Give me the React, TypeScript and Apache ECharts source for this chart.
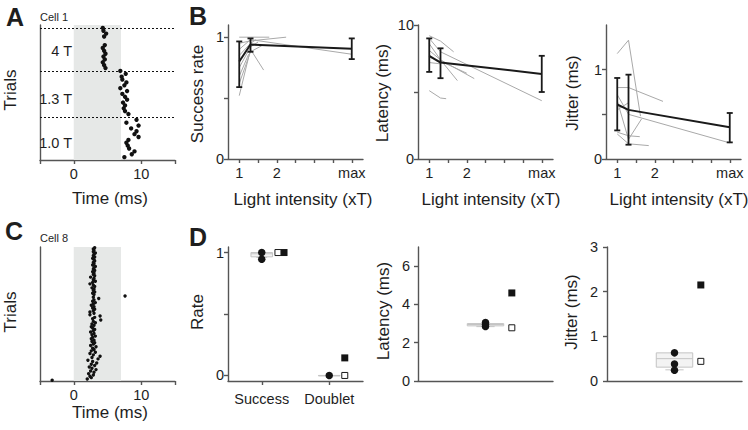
import React, { useEffect, useRef } from "react";
import * as echarts from "echarts";

const FONT = "'Liberation Sans', Arial, Helvetica, sans-serif";
const INK = "#1e1e1e";
const AXIS = "#555555";
const GREY_LINE = "#a9a9a9";
const BOX_LINE = "#c4c4c4";
const SHADE = "#e6e8e7";

// ---------- Panel A : Cell 1 raster (spike times in ms per trial, bottom block first)
const aBlockNames = ["1.0 T", "1.3 T", "4 T"];
const aBlockStarts = [0, 15, 31];
const aBlockEdges = [15, 31, 46];
const aSpikes10T = [7.5, 8.6, 9.0, 8.2, 8.0, 7.8, 8.1, 9.6, 9.0, 9.3, 8.5, 9.6, 7.8, 9.3];
const aSpikes13T = [8.1, 7.6, 7.4, 7.6, 7.3, 7.9, 7.6, 7.2, 7.9, 6.9, 7.5, 7.8, 7.2, 7.1, 7.7, 6.9];
const aSpikes4T = [4.7, 4.5, 4.3, 4.6, 4.4, 4.7, 4.5, 4.3, 4.6, null, null, 4.5, 4.8, 4.4, 4.3];
const stimWindow = [0, 7];
const timeTicks = [-5, 0, 10, 15];
const timeLabels = [0, 10];

// ---------- Panel C : Cell 8 raster (trial 0 at bottom)
const cSpikes = [
  -3.2, 2.0, 2.6, 2.4, 2.9, 2.2, 3.0, 2.5, 3.3, 2.7,
  2.3, 3.1, 2.6, 3.4, 2.8, 2.1, 3.6, 2.7, 3.9, 2.9,
  2.4, 3.2, 2.6, 3.0, 2.8, 3.3, 2.5, 2.9, 3.1, 2.7,
  3.0, 2.6, 2.8, 3.2, 2.7, 3.0, 2.5, 2.9, 3.1, 2.8,
  2.6, 3.0, 2.7, 3.2, 2.9, 4.0, 2.8, 3.1, 3.9, 2.4,
  3.0, 2.4, 2.9, 3.1, 2.8, 3.0, 2.6, 2.9, 3.2, 2.8,
  3.0, 3.7, 2.9, 7.6, 3.0, 2.8, 3.1, 2.9, 3.0, 2.7,
  3.1, 2.9, 2.4, 2.8, 3.2, 2.9, 3.0, 2.5, 3.1, 2.9,
  3.0, 2.8, 3.1, 2.9, 3.0, 3.2, 2.8, 3.0, 2.9, 3.1,
  3.0, 2.8, 3.1, 2.9, 3.0, 3.2, 2.9, 3.0, 2.9, 3.1,
];
const cTrialMax = 100;

// ---------- Panel B : intensity series
const bIntensity = [1, 1.3, 4];
const bIntensityTicks = [1, 1.5, 2, 2.5, 3, 3.5, 4];
const bIntensityLabels = [1, 2, 4];

const bRateMean = [0.8, 0.94, 0.905];
const bRateLow = [0.59, 0.88, 0.82];
const bRateHigh = [0.965, 0.99, 0.99];
const bRateCells = [
  [[1, 0.52], [1.3, 0.9], [1.65, 0.73]],
  [[1, 1.0], [1.3, 1.0], [1.8, 1.0]],
  [[1, 0.95], [1.3, 0.97], [2.25, 1.0]],
  [[1, 0.75], [1.3, 0.92], [1.5, 0.96]],
  [[1, 0.62], [1.3, 0.88], [1.6, 0.93]],
  [[1, 0.9], [1.3, 0.98], [4, 0.86]],
  [[1, 0.85], [1.3, 0.95], [1.45, 0.98]],
  [[1, 0.68], [1.25, 0.86]],
];

const bLatMean = [7.7, 7.2, 6.35];
const bLatLow = [6.5, 6.03, 5.0];
const bLatHigh = [9.0, 8.26, 7.7];
const bLatCells = [
  [[1, 9.2], [1.3, 8.8], [1.65, 8.0]],
  [[1, 9.0], [1.3, 8.0], [4, 4.35]],
  [[1, 8.6], [1.3, 7.4], [1.75, 5.85]],
  [[1, 8.1], [1.3, 7.4], [2.2, 6.0]],
  [[1, 5.1], [1.3, 4.55], [1.45, 4.5]],
  [[1, 7.6], [1.3, 7.3], [2.0, 6.4]],
  [[1, 7.2], [1.3, 7.1]],
];

const bJitMean = [0.61, 0.55, 0.355];
const bJitLow = [0.32, 0.16, 0.186];
const bJitHigh = [0.907, 0.944, 0.515];
const bJitCells = [
  [[1, 1.18], [1.3, 1.33], [1.62, 0.48]],
  [[1, 0.8], [1.3, 0.8], [2.22, 0.645]],
  [[1, 0.72], [1.3, 0.5], [4, 0.18]],
  [[1, 0.3], [1.3, 0.26], [1.6, 0.25]],
  [[1, 0.28], [1.3, 0.17], [1.84, 0.15]],
  [[1, 0.65], [1.3, 0.22], [1.65, 0.45]],
  [[1, 0.55], [1.3, 0.63]],
];

// ---------- Panel D : summary
const dCategories = ["Success", "Doublet"];
const dCategoryPos = [0.5, 1.5];
const dRateCircles = [[0.5, 1.0], [0.5, 0.945], [1.5, 0.0]];
const dRateFilled = [[0.83, 1.0], [1.73, 0.143]];
const dRateOpen = [[0.74, 1.0], [1.73, 0.0]];
// box: [center, whiskerLow, q1, median, q3, whiskerHigh]
const dRateBoxes = [[0.5, 0.96, 0.965, 0.99, 1.0, 1.0], [1.5, 0, 0, 0, 0, 0]];

const dLatCircles = [[1, 3.05], [1, 2.95], [1, 2.85]];
const dLatFilled = [[1.39, 4.6]];
const dLatOpen = [[1.39, 2.78]];
const dLatBoxes = [[1, 2.84, 2.88, 2.95, 3.0, 3.05]];

const dJitCircles = [[1, 0.63], [1, 0.38], [1, 0.24]];
const dJitFilled = [[1.39, 2.15]];
const dJitOpen = [[1.39, 0.44]];
const dJitBoxes = [[1, 0.25, 0.31, 0.5, 0.63, 0.63]];

// ---------------------------------------------------------------
function valAxis(gridIndex: number, min: number, max: number, ticks: number[] | null, labels: number[] | null, opts: any = {}) {
  return {
    type: "value",
    gridIndex,
    min,
    max,
    axisLine: { show: true, onZero: false, lineStyle: { color: AXIS, width: 1.4 } },
    axisTick: ticks
      ? { show: true, customValues: ticks, length: 4, lineStyle: { color: AXIS, width: 1.4 } }
      : { show: false },
    axisLabel: labels
      ? {
          show: true,
          customValues: labels,
          color: INK,
          fontSize: 14.5,
          fontFamily: FONT,
          margin: opts.margin ?? 5,
          formatter: opts.formatter || ((v: number) => String(v)),
        }
      : { show: false },
    splitLine: { show: false },
  };
}

function errBars(xi: number, xs: number[], lo: number[], hi: number[]) {
  return {
    type: "custom",
    xAxisIndex: xi,
    yAxisIndex: xi,
    z: 6,
    silent: true,
    data: xs.map((x, i) => [x, lo[i], hi[i]]),
    renderItem: (params: any, api: any) => {
      const a = api.coord([api.value(0), api.value(1)]);
      const b = api.coord([api.value(0), api.value(2)]);
      const st = { stroke: "#1a1a1a", lineWidth: 1.8 };
      return {
        type: "group",
        children: [
          { type: "line", shape: { x1: a[0], y1: a[1], x2: b[0], y2: b[1] }, style: st },
          { type: "line", shape: { x1: a[0] - 3, y1: a[1], x2: a[0] + 3, y2: a[1] }, style: st },
          { type: "line", shape: { x1: b[0] - 3, y1: b[1], x2: b[0] + 3, y2: b[1] }, style: st },
        ],
      };
    },
  };
}

function boxes(xi: number, data: number[][], halfW: number) {
  return {
    type: "custom",
    xAxisIndex: xi,
    yAxisIndex: xi,
    z: 2,
    silent: true,
    data,
    renderItem: (params: any, api: any) => {
      const c = api.value(0);
      const wl = api.value(1), q1 = api.value(2), md = api.value(3), q3 = api.value(4), wh = api.value(5);
      const tl = api.coord([c - halfW, q3]);
      const br = api.coord([c + halfW, q1]);
      const m1 = api.coord([c - halfW, md]);
      const m2 = api.coord([c + halfW, md]);
      const lo = api.coord([c, wl]);
      const hi = api.coord([c, wh]);
      const capW = (br[0] - tl[0]) / 4;
      const st = { stroke: BOX_LINE, lineWidth: 1, fill: null };
      return {
        type: "group",
        children: [
          { type: "rect", shape: { x: tl[0], y: tl[1], width: br[0] - tl[0], height: Math.max(br[1] - tl[1], 0.5) }, style: { stroke: BOX_LINE, lineWidth: 1, fill: "rgba(235,235,235,0.6)" } },
          { type: "line", shape: { x1: m1[0], y1: m1[1], x2: m2[0], y2: m2[1] }, style: st },
          { type: "line", shape: { x1: lo[0], y1: br[1], x2: lo[0], y2: lo[1] }, style: st },
          { type: "line", shape: { x1: lo[0] - capW, y1: lo[1], x2: lo[0] + capW, y2: lo[1] }, style: st },
          { type: "line", shape: { x1: hi[0], y1: tl[1], x2: hi[0], y2: hi[1] }, style: st },
        ],
      };
    },
  };
}

function greyLines(xi: number, cells: number[][][]) {
  return cells.map((c) => ({
    type: "line",
    xAxisIndex: xi,
    yAxisIndex: xi,
    data: c,
    symbol: "none",
    silent: true,
    z: 2,
    lineStyle: { color: GREY_LINE, width: 1 },
  }));
}

function meanLine(xi: number, xs: number[], ys: number[]) {
  return {
    type: "line",
    xAxisIndex: xi,
    yAxisIndex: xi,
    data: xs.map((x, i) => [x, ys[i]]),
    symbol: "none",
    silent: true,
    z: 5,
    lineStyle: { color: "#1a1a1a", width: 2 },
  };
}

function markers(xi: number, data: number[][], kind: "circle" | "filled" | "open") {
  return {
    type: "scatter",
    xAxisIndex: xi,
    yAxisIndex: xi,
    data,
    silent: true,
    z: 7,
    symbol: kind === "circle" ? "circle" : "rect",
    symbolSize: kind === "circle" ? 7.5 : kind === "filled" ? 7 : 6,
    itemStyle:
      kind === "open"
        ? { color: "#ffffff", borderColor: "#1a1a1a", borderWidth: 1, opacity: 1 }
        : { color: "#141414", opacity: 1 },
  };
}

function txt(text: string, x: number, y: number, size: number, opts: any = {}) {
  return {
    type: "text",
    x,
    y,
    rotation: opts.rot ? Math.PI / 2 : 0,
    silent: true,
    z: 20,
    style: {
      text,
      fontSize: size,
      fontFamily: FONT,
      fontWeight: opts.bold ? "bold" : "normal",
      fill: INK,
      align: opts.align || "center",
      textAlign: opts.align || "center",
      verticalAlign: "middle",
      textVerticalAlign: "middle",
    },
  };
}

export default function App() {
  const ref = useRef<HTMLDivElement>(null);

  useEffect(() => {
    if (!ref.current) return;
    const chart = echarts.init(ref.current, null, { renderer: "svg" });

    const aPoints: number[][] = [];
    [aSpikes10T, aSpikes13T, aSpikes4T].forEach((arr, b) =>
      arr.forEach((t, i) => {
        if (t != null) aPoints.push([t as number, aBlockStarts[b] + i + 1]);
      })
    );
    const cPoints = cSpikes.map((t, i) => [t, i + 0.5]);

    const intensityFmt = (v: number) => (v === 4 ? "max" : String(v));
    const catFmt = (v: number) => dCategories[dCategoryPos.indexOf(v)] ?? "";
    const TITLE = 17;

    const option: any = {
      animation: false,
      backgroundColor: "#ffffff",
      grid: [
        { left: 40, top: 25, width: 135, height: 135 }, // A
        { left: 40, top: 247, width: 135, height: 134 }, // C
        { left: 228, top: 25, width: 135, height: 134 }, // B1
        { left: 418, top: 25, width: 135, height: 134 }, // B2
        { left: 606, top: 25, width: 135, height: 134 }, // B3
        { left: 228, top: 247, width: 135, height: 134 }, // D1
        { left: 418, top: 247, width: 135, height: 134 }, // D2
        { left: 607, top: 247, width: 135, height: 134 }, // D3
      ],
      xAxis: [
        valAxis(0, -5, 15, timeTicks, timeLabels, { margin: 6 }),
        valAxis(1, -5, 15, timeTicks, timeLabels, { margin: 6 }),
        valAxis(2, 0.7, 4.3, bIntensityTicks, bIntensityLabels, { margin: 6, formatter: intensityFmt }),
        valAxis(3, 0.7, 4.3, bIntensityTicks, bIntensityLabels, { margin: 6, formatter: intensityFmt }),
        valAxis(4, 0.7, 4.3, bIntensityTicks, bIntensityLabels, { margin: 6, formatter: intensityFmt }),
        valAxis(5, 0, 2, dCategoryPos, dCategoryPos, { margin: 10, formatter: catFmt }),
        valAxis(6, 0, 2, null, null),
        valAxis(7, 0, 2, null, null),
      ],
      yAxis: [
        valAxis(0, 0, 47, null, null),
        valAxis(1, 0, cTrialMax, null, null),
        valAxis(2, 0, 1.1, [0, 0.5, 1], [0, 1], { margin: 4 }),
        valAxis(3, 0, 10, [0, 5, 10], [0, 10], { margin: 4 }),
        valAxis(4, 0, 1.5, [0, 0.5, 1], [0, 1], { margin: 4 }),
        valAxis(5, -0.045, 1.045, [0, 0.5, 1], [0, 1], { margin: 4 }),
        valAxis(6, 0, 7, [0, 2, 4, 6], [0, 2, 4, 6], { margin: 8 }),
        valAxis(7, 0, 3, [0, 1, 2, 3], [0, 1, 2, 3], { margin: 9 }),
      ],
      series: [
        {
          type: "scatter",
          xAxisIndex: 0,
          yAxisIndex: 0,
          data: [],
          z: 1,
          silent: true,
          markArea: {
            silent: true,
            itemStyle: { color: SHADE },
            data: [[{ xAxis: stimWindow[0] }, { xAxis: stimWindow[1] }]],
          },
          markLine: {
            silent: true,
            symbol: ["none", "none"],
            label: { show: false },
            lineStyle: { color: "#111", width: 1, type: [2, 2] },
            data: aBlockEdges.map((v) => ({ yAxis: v })),
          },
        },
        {
          type: "scatter",
          xAxisIndex: 0,
          yAxisIndex: 0,
          data: aPoints,
          symbolSize: 4.4,
          silent: true,
          z: 3,
          itemStyle: { color: "#111", opacity: 1 },
        },
        {
          type: "scatter",
          xAxisIndex: 1,
          yAxisIndex: 1,
          data: [],
          z: 1,
          silent: true,
          markArea: {
            silent: true,
            itemStyle: { color: SHADE },
            data: [[{ xAxis: stimWindow[0] }, { xAxis: stimWindow[1] }]],
          },
        },
        {
          type: "scatter",
          xAxisIndex: 1,
          yAxisIndex: 1,
          data: cPoints,
          symbolSize: 3.4,
          silent: true,
          z: 3,
          itemStyle: { color: "#111", opacity: 1 },
        },
        ...greyLines(2, bRateCells),
        meanLine(2, bIntensity, bRateMean),
        errBars(2, bIntensity, bRateLow, bRateHigh),
        ...greyLines(3, bLatCells),
        meanLine(3, bIntensity, bLatMean),
        errBars(3, bIntensity, bLatLow, bLatHigh),
        ...greyLines(4, bJitCells),
        meanLine(4, bIntensity, bJitMean),
        errBars(4, bIntensity, bJitLow, bJitHigh),
        boxes(5, dRateBoxes, 0.16),
        markers(5, dRateCircles, "circle"),
        markers(5, dRateFilled, "filled"),
        markers(5, dRateOpen, "open"),
        boxes(6, dLatBoxes, 0.27),
        markers(6, dLatCircles, "circle"),
        markers(6, dLatFilled, "filled"),
        markers(6, dLatOpen, "open"),
        boxes(7, dJitBoxes, 0.27),
        markers(7, dJitCircles, "circle"),
        markers(7, dJitFilled, "filled"),
        markers(7, dJitOpen, "open"),
      ],
      graphic: [
        txt("A", 15, 17, 25, { bold: true }),
        txt("B", 198, 16, 25, { bold: true }),
        txt("C", 14, 231, 25, { bold: true }),
        txt("D", 198, 237, 25, { bold: true }),
        txt("Cell 1", 40, 17, 11, { align: "left" }),
        txt("Cell 8", 40, 238, 11, { align: "left" }),
        txt(aBlockNames[2], 72, 51, 14.5, { align: "right" }),
        txt(aBlockNames[1], 72, 99, 14.5, { align: "right" }),
        txt(aBlockNames[0], 72, 143, 14.5, { align: "right" }),
        txt("Trials", 10, 90, TITLE, { rot: true }),
        txt("Time (ms)", 110, 198, TITLE),
        txt("Trials", 10, 312, TITLE, { rot: true }),
        txt("Time (ms)", 110, 412, TITLE),
        txt("Success rate", 197, 94, TITLE, { rot: true }),
        txt("Light intensity (xT)", 303, 199, TITLE),
        txt("Latency (ms)", 382, 93, TITLE, { rot: true }),
        txt("Light intensity (xT)", 491, 199, TITLE),
        txt("Jitter (ms)", 572, 93, TITLE, { rot: true }),
        txt("Light intensity (xT)", 679, 199, TITLE),
        txt("Rate", 197, 312, TITLE, { rot: true }),
        txt("Latency (ms)", 383, 311, TITLE, { rot: true }),
        txt("Jitter (ms)", 571, 312, TITLE, { rot: true }),
      ],
    };

    chart.setOption(option);
    return () => chart.dispose();
  }, []);

  return (
    <div
      ref={ref}
      style={{ position: "absolute", left: 0, top: 0, width: 748, height: 430, background: "#fff" }}
    />
  );
}
